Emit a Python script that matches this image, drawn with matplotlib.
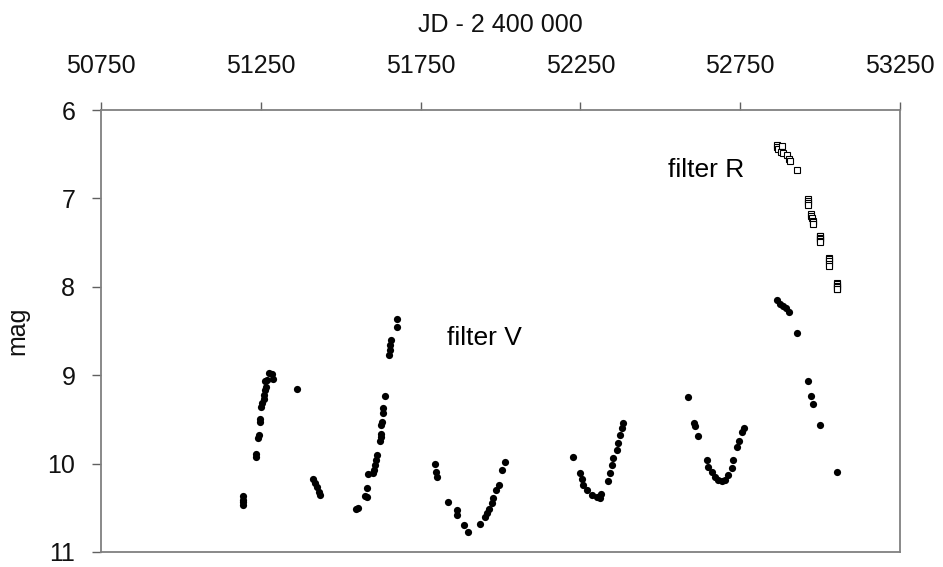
import matplotlib.pyplot as plt

plt.rcParams['font.family'] = ['Liberation Sans', 'DejaVu Sans']

# V band photometry (JD - 2400000, magnitude)
jd_v = [51194, 51194, 51194, 51194,
        51234, 51236, 51242, 51244, 51248, 51249, 51251, 51255, 51259, 51261,
        51263, 51266, 51262, 51268, 51277, 51284, 51287, 51364,
        51414, 51420, 51425, 51432, 51435, 51548, 51553,
        51576, 51581, 51583, 51585, 51600, 51604, 51607, 51610, 51613,
        51623, 51626, 51627, 51627, 51628, 51631, 51633, 51639,
        51652, 51654, 51654, 51656, 51675, 51675,
        51795, 51798, 51800, 51837, 51863, 51865, 51886, 51897, 51936,
        51952, 51957, 51965, 51972, 51975, 51986, 51996, 52004, 52014,
        52228, 52249, 52254, 52259, 52270, 52285, 52301, 52311, 52316,
        52337, 52343, 52348, 52353, 52363, 52369, 52374, 52379, 52382,
        52587, 52605, 52609, 52619, 52645, 52650, 52661, 52671, 52682,
        52692, 52702, 52713, 52723, 52728, 52739, 52747, 52755, 52762,
        52864, 52874, 52883, 52893, 52904, 52927, 52963, 52973, 52979,
        53001, 53054]
mag_v = [10.37, 10.41, 10.44, 10.47,
         9.92, 9.89, 9.71, 9.68, 9.53, 9.50, 9.36, 9.32, 9.27, 9.22,
         9.17, 9.13, 9.07, 9.05, 8.98, 8.99, 9.04, 9.16,
         10.17, 10.22, 10.26, 10.32, 10.36, 10.51, 10.50,
         10.37, 10.38, 10.28, 10.12, 10.11, 10.07, 10.02, 9.96, 9.90,
         9.75, 9.70, 9.66, 9.56, 9.53, 9.43, 9.37, 9.24,
         8.77, 8.72, 8.66, 8.60, 8.45, 8.36,
         10.00, 10.09, 10.15, 10.44, 10.52, 10.58, 10.69, 10.77, 10.68,
         10.60, 10.56, 10.51, 10.45, 10.39, 10.30, 10.24, 10.07, 9.98,
         9.92, 10.11, 10.17, 10.24, 10.30, 10.36, 10.38, 10.39, 10.34,
         10.20, 10.11, 10.02, 9.94, 9.85, 9.77, 9.68, 9.60, 9.54,
         9.25, 9.54, 9.58, 9.69, 9.96, 10.04, 10.09, 10.15, 10.19,
         10.20, 10.19, 10.13, 10.05, 9.96, 9.81, 9.75, 9.64, 9.60,
         8.15, 8.19, 8.22, 8.24, 8.28, 8.52, 9.07, 9.24, 9.33,
         9.56, 10.09]

# R band photometry
jd_r = [52864, 52866, 52869, 52880, 52877, 52885, 52895, 52904, 52906, 52927,
        52963, 52963, 52963, 52963,
        52973, 52973, 52974, 52979, 52979, 52979,
        52999, 52999, 52999, 52999, 52999, 52999,
        53029, 53029, 53029, 53029, 53029,
        53054, 53054, 53054, 53054, 53054, 53054]
mag_r = [6.40, 6.42, 6.44, 6.41, 6.47, 6.49, 6.51, 6.55, 6.58, 6.68,
         7.01, 7.03, 7.05, 7.07,
         7.18, 7.20, 7.22, 7.25, 7.27, 7.29,
         7.42, 7.43, 7.45, 7.46, 7.48, 7.49,
         7.67, 7.69, 7.71, 7.74, 7.77,
         7.96, 7.97, 7.99, 8.00, 8.02, 8.03]

x_ticks = [50750, 51250, 51750, 52250, 52750, 53250]
y_ticks = [6, 7, 8, 9, 10, 11]

fig = plt.figure(figsize=(9.43, 5.67), dpi=100)
ax = fig.add_axes([101 / 943, 15 / 567, 799 / 943, 442 / 567])

ax.plot(jd_v, mag_v, 'o', color='black', ms=5.2, mew=0, zorder=3)
ax.plot(jd_r, mag_r, 's', mfc='white', mec='black', ms=3.9, mew=0.8, zorder=3)

ax.set_xlim(50750, 53250)
ax.set_ylim(11, 6)
ax.set_xticks(x_ticks)
ax.set_yticks(y_ticks)
ax.xaxis.tick_top()
ax.xaxis.set_label_position('top')

for side in ['top', 'bottom', 'left', 'right']:
    ax.spines[side].set_color('#808080')
    ax.spines[side].set_linewidth(1.3)

ax.tick_params(axis='x', direction='out', length=6, width=1.0, color='#606060',
               pad=17, labelsize=18, colors='#111111')
ax.tick_params(axis='y', direction='out', length=6.5, width=1.0, color='#606060',
               pad=12, labelsize=18, colors='#111111')

ax.set_xlabel('JD - 2 400 000', fontsize=18, color='#111111', va='center')
ax.xaxis.set_label_coords(0.5, (552 - 25) / 442)
ax.set_ylabel('mag', fontsize=18, color='#111111', va='center')
ax.yaxis.set_label_coords(-84 / 799, 0.5)

ax.text(51833, 8.58, 'filter V', fontsize=19, va='center', ha='left')
ax.text(52524, 6.68, 'filter R', fontsize=19, va='center', ha='left')

plt.savefig('out.png', dpi=100)
plt.close()
